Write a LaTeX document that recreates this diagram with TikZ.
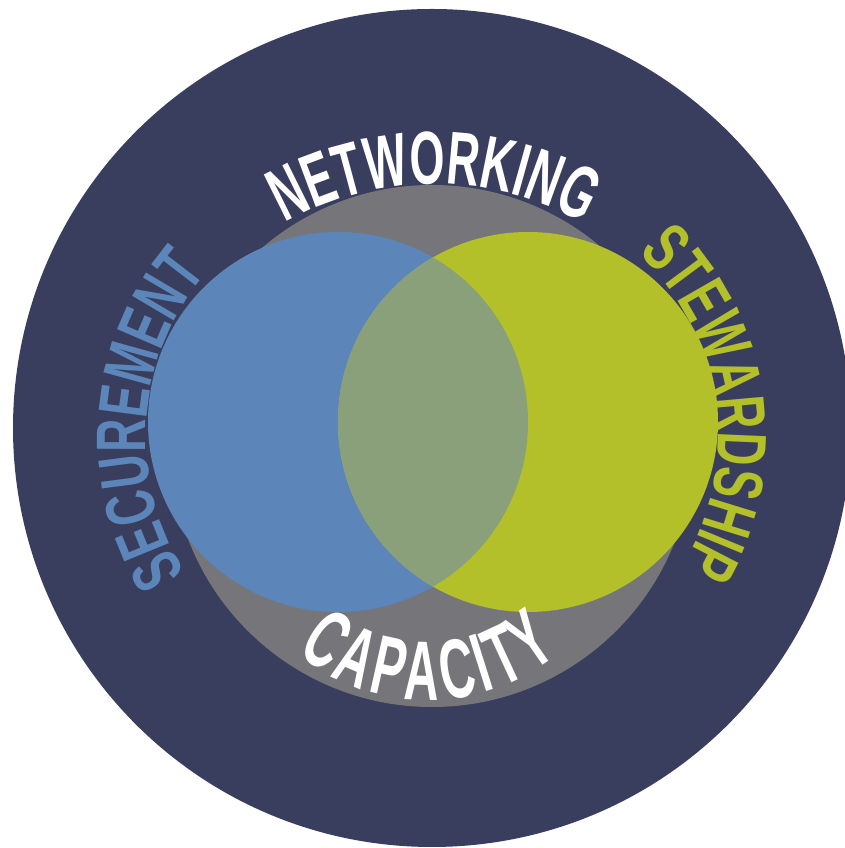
\documentclass[tikz,border=0pt]{standalone}
\usepackage{fontspec}
\newfontfamily\condnet[FakeStretch=0.60]{Liberation Sans}
\newfontfamily\condcap[FakeStretch=0.58]{Liberation Sans}
\newfontfamily\condside[FakeStretch=0.66]{Liberation Sans}
\usetikzlibrary{decorations.text}
\definecolor{navy}{RGB}{58,62,94}
\definecolor{ringgray}{RGB}{118,118,122}
\definecolor{vennblue}{RGB}{92,134,185}
\definecolor{venngreen}{RGB}{179,192,42}
\definecolor{vennmix}{RGB}{138,160,122}
\newcommand{\capfont}{\condcap\bfseries\fontsize{84}{84}\selectfont\fontdimen2\font=5pt\fontdimen3\font=0pt\fontdimen4\font=0pt}
\tikzset{
  arctext/.style={decorate, decoration={text along path, text align=center, text color=#1}},
}
\begin{document}
\begin{tikzpicture}[x=1pt,y=1pt]
\useasboundingbox (0,0) rectangle (845,848);
\fill[white] (0,0) rectangle (845,848);
\clip (0,0) rectangle (845,848);
% discs
\fill[navy] (432,420) circle[radius=419pt];
\fill[ringgray] (432,402) circle[radius=261pt];
\fill[vennblue] (338,426) circle[radius=190pt];
\fill[venngreen] (528,426) circle[radius=190pt];
\begin{scope}
  \clip (338,426) circle[radius=190pt];
  \fill[vennmix] (528,426) circle[radius=190pt];
\end{scope}
% curved labels
\path[arctext=white, decoration={text={|\condnet\bfseries\fontsize{75}{75}\selectfont|NETWORKING}}]
  (434,361) ++(150:303pt) arc[start angle=150, end angle=30, radius=303pt];
\path[arctext=white, decoration={text={|\capfont|C A P A C I T Y}}]
  (428,355) ++(200:207pt) arc[start angle=200, end angle=340, radius=207pt];
\path[arctext=vennblue, decoration={text={|\condside\bfseries\fontsize{70}{70}\selectfont|SECUREMENT}}]
  (398,411) ++(238:252pt) arc[start angle=238, end angle=114, radius=252pt];
\path[arctext=venngreen, decoration={text={|\condside\bfseries\fontsize{70}{70}\selectfont|STEWARDSHIP}}]
  (466,411) ++(70:252pt) arc[start angle=70, end angle=-54, radius=252pt];
\end{tikzpicture}
\end{document}
